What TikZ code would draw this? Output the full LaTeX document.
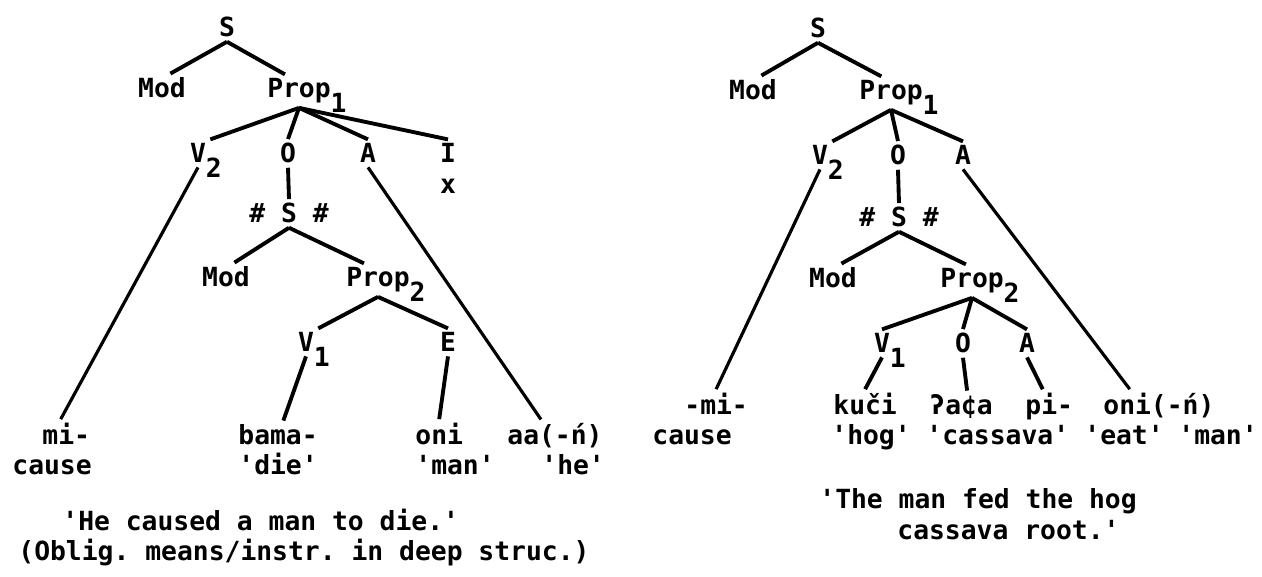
\documentclass[tikz,border=0pt]{standalone}
\usepackage{fontspec}
\setmonofont{DejaVu Sans Mono}
\newcommand{\lowsub}[1]{\smash{\rlap{\raisebox{-0.55em}{#1}}}}

\begin{document}
\begin{tikzpicture}
[x=0.02cm,y=-0.02cm,
 every node/.style={font=\ttfamily\bfseries\fontsize{15}{18}\selectfont,inner sep=2.5pt,outer sep=0pt,anchor=base},
 leaf/.style={anchor=base west},
 br/.style={line width=2.2pt},
 lg/.style={line width=1.8pt}]

\useasboundingbox (0,0) rectangle (1262,577);

% left tree
\node (LS)     at (227,37)  {S};
\node (LMod)   at (162,98)  {Mod};
\node (LProp)  at (299,98)  {Prop\lowsub{1}};
\node (LV)     at (198,163) {V\lowsub{2}};
\node (LO)     at (288,163) {O};
\node (LA)     at (368,163) {A};
\node (LI)     at (448,163) {I};
\node (Lx)     at (448,194) {x};
\node (LSb)    at (289,223) {\# S \#};
\node (LModb)  at (226,287) {Mod};
\node (LPropb) at (378,287) {Prop\lowsub{2}};
\node (LVb)    at (306,352) {V\lowsub{1}};
\node (LE)     at (448,352) {E};

\node[leaf] (Lmi)    at (38,445)  {mi-};
\node[leaf] (Lcause) at (8,475)   {cause};
\node[leaf] (Lbama)  at (234,445) {bama-};
\node[leaf] (Ldie)   at (234,475) {'die'};
\node[leaf] (Loni)   at (411,445) {oni};
\node[leaf] (Lman)   at (411,475) {'man'};
\node[leaf] (Laa)    at (503,445) {aa(-ń)};
\node[leaf] (Lhe)    at (537,475) {'he'};

\node[leaf] (Lcap1) at (58,531) {'He caused a man to die.'};
\node[leaf] (Lcap2) at (14,561) {(Oblig. means/instr. in deep struc.)};

\path[br] (LS.south)     edge (LMod.60) edge (LProp.130);
\path[br] (LProp.south)  edge (LV.north east) edge (LO.north) edge (LA.north) edge (LI.north);
\path[br] (LO.south)     edge (LSb.north);
\path[br] (LSb.south)    edge (LModb.60) edge (LPropb.130);
\path[br] (LPropb.south) edge (LVb.north east) edge (LE.north);
\path[br] (LVb.south)    edge (Lbama.70);
\path[br] (LE.south)     edge (Loni.north);
\path[lg] (LV.south)     edge (Lmi.110);
\path[lg] (LA.south)     edge (Laa.130);

% right tree
\node (RS)     at (818,38)   {S};
\node (RMod)   at (753,100)  {Mod};
\node (RProp)  at (891,100)  {Prop\lowsub{1}};
\node (RV)     at (820,165)  {V\lowsub{2}};
\node (RO)     at (898,165)  {O};
\node (RA)     at (963,165)  {A};
\node (RSb)    at (899,227)  {\# S \#};
\node (RModb)  at (833,288)  {Mod};
\node (RPropb) at (972,288)  {Prop\lowsub{2}};
\node (RVb)    at (882,353)  {V\lowsub{1}};
\node (ROb)    at (963,353)  {O};
\node (RAb)    at (1027,353) {A};

\node[leaf] (Rmi)    at (680,415)  {-mi-};
\node[leaf] (Rkuci)  at (829,415)  {kuči};
\node[leaf] (Rqaca)  at (925,415)  {ʔa¢a};
\node[leaf] (Rpi)    at (1021,415) {pi-};
\node[leaf] (Roni)   at (1099,415) {oni(-ń)};
\node[leaf] (Rcause) at (648,445)  {cause};
\node[leaf] (Rhog)   at (827,445)  {'hog'};
\node[leaf] (Rcass)  at (922,445)  {'cassava'};
\node[leaf] (Reat)   at (1080,445) {'eat'};
\node[leaf] (Rman)   at (1174,445) {'man'};

\node[leaf] (Rcap1) at (815,509) {'The man fed the hog};
\node[leaf] (Rcap2) at (893,540) {cassava root.'};

\path[br] (RS.south)     edge (RMod.60) edge (RProp.120);
\path[br] (RProp.south)  edge (RV.north east) edge (RO.north) edge (RA.north);
\path[br] (RO.south)     edge (RSb.north);
\path[br] (RSb.south)    edge (RModb.60) edge (RPropb.110);
\path[br] (RPropb.south) edge (RVb.north) edge (ROb.north) edge (RAb.north);
\path[br] (RVb.south)    edge (Rkuci.north);
\path[br] (ROb.south)    edge (Rqaca.70);
\path[br] (RAb.south)    edge (Rpi.110);
\path[lg] (RV.south)     edge (Rmi.north);
\path[lg] (RA.south)     edge (Roni.150);

\end{tikzpicture}
\end{document}
